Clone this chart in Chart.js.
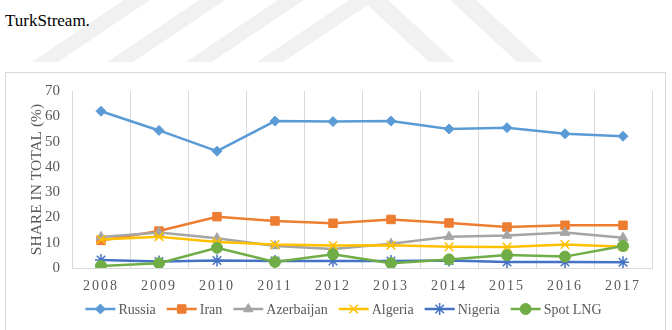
<!DOCTYPE html>
<html>
<head>
<meta charset="utf-8">
<script src="https://cdn.jsdelivr.net/npm/chart.js@4.4.0/dist/chart.umd.min.js"></script>
<style>
  html, body { margin: 0; padding: 0; background: #fff; }
  body { width: 672px; height: 330px; position: relative; overflow: hidden; }
  #mark { position: absolute; left: 0; top: 0; }
  #lead { position: absolute; left: 5px; top: 11px; font-family: "Liberation Serif", "Times New Roman", serif; font-size: 17px; color: #000; }
  #box { position: absolute; left: 5px; top: 72px; width: 659px; height: 270px; border: 1px solid #d9d9d9; background: #fff; }
  #wrap { position: absolute; left: 0; top: -3px; width: 659px; height: 261px; }
</style>
</head>
<body>
<svg id="mark" width="672" height="72">
  <g fill="#f1f1f1">
    <polygon points="32,62 58,62 150,0 124,0"/>
    <polygon points="107,62 133,62 225,0 199,0"/>
    <polygon points="186,62 212,62 304,0 278,0"/>
    <polygon points="257,62 283,62 375,0 349,0"/>
    <polygon points="362,0 388,0 455,62 429,62"/>
    <polygon points="450,0 476,0 543,62 517,62"/>
  </g>
</svg>
<div id="lead">TurkStream.</div>
<div id="box"><div id="wrap"><canvas id="myChart"></canvas></div></div>
<script>
// Data
const years = ["2008", "2009", "2010", "2011", "2012", "2013", "2014", "2015", "2016", "2017"];
const russia = [62.0, 54.4, 46.2, 58.1, 57.9, 58.1, 55.0, 55.5, 53.1, 52.1];
const iran = [10.9, 14.6, 20.3, 18.6, 17.7, 19.2, 17.8, 16.2, 16.9, 16.9];
const azerbaijan = [12.3, 14.0, 11.8, 8.7, 7.5, 9.6, 12.4, 12.9, 14.0, 12.0];
const algeria = [11.3, 12.4, 10.3, 9.3, 8.9, 9.0, 8.4, 8.3, 9.3, 8.4];
const nigeria = [3.2, 2.6, 3.0, 2.8, 2.8, 2.8, 3.0, 2.4, 2.4, 2.3];
const spotLng = [0.8, 1.9, 8.0, 2.4, 5.4, 1.9, 3.4, 5.1, 4.5, 8.7];
const yTicks = [0, 10, 20, 30, 40, 50, 60, 70];

const textColor = "#595959";
const serif = "'Liberation Serif', 'Times New Roman', serif";

function series(label, data, color, style, radius, order) {
  return {
    label: label,
    data: data,
    borderColor: color,
    backgroundColor: color,
    pointBackgroundColor: color,
    pointBorderColor: color,
    pointStyle: style,
    pointRadius: radius,
    pointHoverRadius: radius,
    pointBorderWidth: (style === "crossRot" || style === "star") ? 1.5 : 1,
    borderWidth: 2.5,
    tension: 0,
    order: order,
  };
}

const datasets = [
  series("Russia", russia, "#5B9BD5", "rectRot", 5, 5),
  series("Iran", iran, "#ED7D31", "rect", 6, 4),
  series("Azerbaijan", azerbaijan, "#A5A5A5", "triangle", 5.5, 3),
  series("Algeria", algeria, "#FFC000", "crossRot", 6, 2),
  series("Nigeria", nigeria, "#4472C4", "star", 6, 1),
  series("Spot LNG", spotLng, "#70AD47", "circle", 5.5, 0),
];

// spaced year labels + legend with line and marker
const excelLook = {
  id: "excelLook",
  beforeDraw(chart) {
    const sx = chart.scales.x;
    if (!sx._spaced) {
      const orig = sx.drawLabels;
      sx.drawLabels = function (area) {
        const c = this.ctx;
        c.save();
        c.letterSpacing = "2px";
        orig.call(this, area);
        c.restore();
      };
      sx._spaced = true;
    }
  },
  afterDraw(chart) {
    const ctx = chart.ctx;
    const y = 239;
    const lineLen = 30;
    ctx.save();
    ctx.font = "14px " + serif;
    ctx.textBaseline = "middle";
    ctx.textAlign = "left";
    const widths = datasets.map(d => lineLen + 3 + ctx.measureText(d.label).width);
    const gap = 11;
    const total = widths.reduce((a, b) => a + b, 0) + gap * (datasets.length - 1);
    let x = (chart.width - total) / 2 + 8;
    datasets.forEach((d, i) => {
      ctx.strokeStyle = d.borderColor;
      ctx.lineWidth = 2.5;
      ctx.beginPath();
      ctx.moveTo(x, y);
      ctx.lineTo(x + lineLen, y);
      ctx.stroke();
      ctx.fillStyle = d.backgroundColor;
      ctx.lineWidth = d.pointBorderWidth;
      Chart.helpers.drawPoint(ctx, {
        pointStyle: d.pointStyle,
        radius: d.pointRadius,
        rotation: 0,
        borderWidth: d.pointBorderWidth,
      }, x + lineLen / 2, y);
      ctx.fillStyle = textColor;
      ctx.fillText(d.label, x + lineLen + 3, y + 1);
      x += widths[i] + gap;
    });
    ctx.restore();
  },
};

const ctx = document.getElementById("myChart").getContext("2d");
const myChart = new Chart(ctx, {
  type: "line",
  data: { labels: years, datasets: datasets },
  plugins: [excelLook],
  options: {
    responsive: true,
    maintainAspectRatio: false,
    animation: false,
    events: [],
    layout: { padding: { top: 10, right: 13, left: 0, bottom: 0 } },
    plugins: {
      legend: { display: false },
      tooltip: { enabled: false },
    },
    scales: {
      x: {
        offset: true,
        grid: { display: true, offset: true, color: "#D9D9D9", lineWidth: 1, drawTicks: false },
        border: { display: true, color: "#D9D9D9" },
        ticks: { color: textColor, font: { family: serif, size: 14 }, padding: 10, maxRotation: 0 },
        afterFit(scale) { scale.height = 63; },
      },
      y: {
        min: 0,
        max: 70,
        afterBuildTicks(scale) { scale.ticks = yTicks.map(v => ({ value: v })); },
        grid: { display: false, drawTicks: false },
        border: { display: false },
        ticks: { color: textColor, font: { family: serif, size: 15 }, padding: 12 },
        title: {
          display: true,
          text: "SHARE IN TOTAL (%)",
          color: textColor,
          font: { family: serif, size: 15.5 },
          padding: { top: 22, bottom: 0 },
        },
        afterFit(scale) { scale.width = 66; },
      },
    },
  },
});
</script>
</body>
</html>
